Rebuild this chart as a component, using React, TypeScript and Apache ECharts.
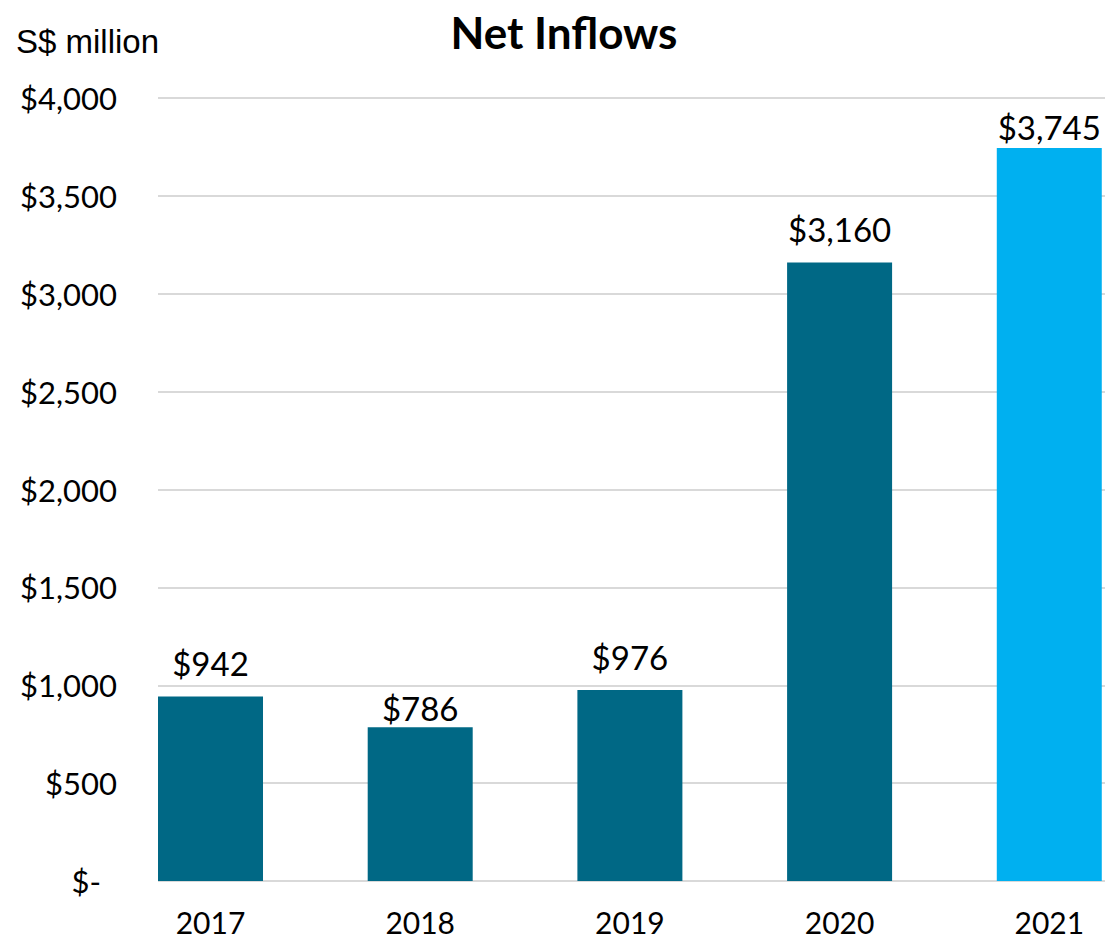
import React, { useEffect, useRef } from "react";
import * as echarts from "echarts";

const categories = ["2017", "2018", "2019", "2020", "2021"];
const netInflows = [942, 786, 976, 3160, 3745];
const barColors = ["#006885", "#006885", "#006885", "#006885", "#00B0F0"];
const labelDistances = [17, 3, 16, 17, 4];
const titleText = "Net Inflows";
const unitText = "S$ million";

const FONT = "Lato, 'Open Sans', sans-serif";

function fmtMoney(v: number): string {
  if (v === 0) return "$-";
  return "$" + v.toLocaleString("en-US");
}

export default function App() {
  const ref = useRef<HTMLDivElement>(null);
  useEffect(() => {
    if (!ref.current) return;
    const chart = echarts.init(ref.current, undefined, { renderer: "svg" });
    const top = 98;
    const bottom = 59;
    chart.setOption({
      animation: false,
      backgroundColor: "#ffffff",
      graphic: [
        {
          type: "text",
          x: 564,
          y: 32,
          style: {
            text: titleText,
            font: "bold 44px " + FONT,
            fill: "#000",
            textAlign: "center",
            textVerticalAlign: "middle",
          },
        },
        {
          type: "text",
          x: 16,
          y: 41,
          style: {
            text: unitText,
            font: "33px 'Liberation Sans', Arial, sans-serif",
            fill: "#000",
            textAlign: "left",
            textVerticalAlign: "middle",
          },
        },
      ],
      grid: [{ left: 158, right: 0, top, bottom }],
      xAxis: [
        {
          type: "value",
          min: -0.2504,
          max: 4.2657,
          axisLine: { show: false },
          axisTick: { show: false },
          splitLine: { show: false },
          axisLabel: {
            customValues: [0, 1, 2, 3, 4],
            formatter: (v: number) => categories[Math.round(v)] ?? "",
            margin: 26,
            fontSize: 30,
            fontFamily: FONT,
            color: "#000",
          },
        },
      ],
      yAxis: [
        {
          type: "value",
          min: 0,
          max: 4000,
          interval: 500,
          axisLine: { show: false },
          axisTick: { show: false },
          splitLine: { show: true, lineStyle: { color: "#D9D9D9", width: 2 } },
          axisLabel: {
            margin: 41,
            fontSize: 31,
            fontFamily: FONT,
            color: "#000",
            formatter: (v: number) => (v === 0 ? "{z|$-}" : fmtMoney(v)),
            rich: {
              z: {
                fontSize: 31,
                fontFamily: FONT,
                color: "#000",
                padding: [0, 16, 0, 0],
              },
            },
          },
        },
      ],
      series: [
        {
          type: "bar",
          barWidth: 105,
          data: netInflows.map((v, i) => ({
            value: [i, v],
            itemStyle: { color: barColors[i] },
            label: { distance: labelDistances[i] },
          })),
          label: {
            show: true,
            position: "top",
            fontSize: 33,
            fontFamily: FONT,
            color: "#000",
            formatter: (p: any) => fmtMoney(p.value[1]),
          },
        },
      ],
    });
    return () => chart.dispose();
  }, []);
  return (
    <div
      ref={ref}
      style={{ position: "absolute", left: 0, top: 0, width: 1105, height: 940 }}
    />
  );
}
